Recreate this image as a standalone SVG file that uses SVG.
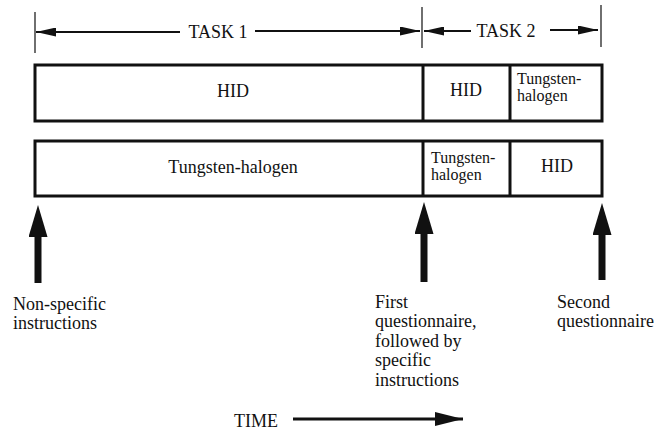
<svg xmlns="http://www.w3.org/2000/svg" width="667" height="435" viewBox="0 0 667 435">
<defs>
<style>
text{font-family:"Liberation Serif",Tinos,Times,"Times New Roman","DejaVu Serif","Noto Serif",Georgia,serif;font-size:18px;fill:#111}
.m{text-anchor:middle}
.s{font-size:16px}
.box{fill:none;stroke:#111;stroke-width:3}
.div{stroke:#111;stroke-width:3}
.tick{stroke:#222;stroke-width:1.3}
.thin{stroke:#111;stroke-width:2;fill:none}
.thick{stroke:#111;stroke-width:7;fill:none}
.timea{stroke:#111;stroke-width:3;fill:none}
</style>
<marker id="ah" markerUnits="userSpaceOnUse" markerWidth="20" markerHeight="9" refX="20" refY="4.5" orient="auto">
<path d="M0,0 L20,4.5 L0,9 z" fill="#111"/>
</marker>
<marker id="bh" markerUnits="userSpaceOnUse" markerWidth="32" markerHeight="19" refX="2" refY="9.5" orient="auto">
<path d="M0,0 L32,9.5 L0,19 z" fill="#111"/>
</marker>
<marker id="th" markerUnits="userSpaceOnUse" markerWidth="28" markerHeight="14" refX="28" refY="7" orient="auto">
<path d="M0,0 L28,7 L0,14 z" fill="#111"/>
</marker>
</defs>
<rect width="667" height="435" fill="#fff"/>

<g id="dimensions">
<line class="tick" x1="35" y1="12" x2="35" y2="53"/>
<line class="tick" x1="422" y1="7" x2="422" y2="48"/>
<line class="tick" x1="601" y1="5" x2="601" y2="47"/>
<text class="m" x="218" y="38">TASK 1</text>
<text class="m" x="506" y="37">TASK 2</text>
</g>

<g id="row1">
<rect class="box" x="35" y="65" width="567" height="56"/>
<line class="div" x1="423" y1="65" x2="423" y2="121"/>
<line class="div" x1="510" y1="65" x2="510" y2="121"/>
</g>
<g id="row1-task1-hid"><text class="m" x="233" y="97">HID</text></g>
<g id="row1-task2-hid"><text class="m" x="466" y="96">HID</text></g>
<g id="row1-task2-th"><text class="s" x="517" y="84">Tungsten-</text><text class="s" x="517" y="101">halogen</text></g>

<g id="row2">
<rect class="box" x="35" y="141" width="567" height="55"/>
<line class="div" x1="423" y1="141" x2="423" y2="196"/>
<line class="div" x1="510" y1="141" x2="510" y2="196"/>
</g>
<g id="row2-task1-th"><text class="m" x="233" y="173">Tungsten-halogen</text></g>
<g id="row2-task2-th"><text class="s" x="431" y="163">Tungsten-</text><text class="s" x="431" y="180">halogen</text></g>
<g id="row2-task2-hid"><text class="m" x="557" y="172">HID</text></g>

<g id="label-nonspecific"><text x="13" y="310">Non-specific</text><text x="13" y="329">instructions</text></g>
<g id="label-first"><text x="375" y="308">First</text><text x="375" y="327">questionnaire,</text><text x="375" y="347">followed by</text><text x="375" y="366">specific</text><text x="375" y="386">instructions</text></g>
<g id="label-second"><text x="557" y="308">Second</text><text x="557" y="327">questionnaire</text></g>
<g id="label-time"><text x="234" y="427">TIME</text></g>

<g id="connectors">
<line class="thin" x1="180" y1="32" x2="36" y2="32" marker-end="url(#ah)"/>
<line class="thin" x1="255" y1="31" x2="420" y2="31" marker-end="url(#ah)"/>
<line class="thin" x1="471" y1="31" x2="424" y2="31" marker-end="url(#ah)"/>
<line class="thin" x1="550" y1="30" x2="598" y2="30" marker-end="url(#ah)"/>
<line class="thick" x1="38" y1="283" x2="38" y2="235" marker-end="url(#bh)"/>
<line class="thick" x1="424" y1="282" x2="424" y2="232" marker-end="url(#bh)"/>
<line class="thick" x1="602" y1="280" x2="602" y2="233" marker-end="url(#bh)"/>
<line class="timea" x1="293" y1="419" x2="463" y2="419" marker-end="url(#th)"/>
</g>
</svg>
